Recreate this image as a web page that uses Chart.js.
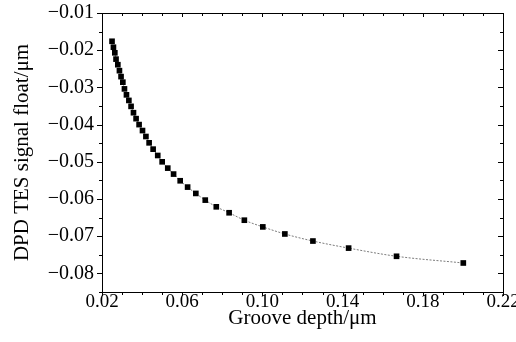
<!DOCTYPE html>
<html>
<head>
<meta charset="utf-8">
<script src="https://cdn.jsdelivr.net/npm/chart.js@4/dist/chart.umd.min.js"></script>
<style>
  html, body { margin: 0; padding: 0; background: #fff; }
  #wrap { width: 516px; height: 342px; }
</style>
</head>
<body>
<div id="wrap"><canvas id="myChart" width="516" height="342"></canvas></div>
<script>
// ── données ──
const grooveDepth = [
  0.0250, 0.0257, 0.0264, 0.0270, 0.0279, 0.0287, 0.0295, 0.0304, 0.0312,
  0.0322, 0.0334, 0.0345, 0.0357, 0.0370, 0.0385, 0.0402, 0.0419, 0.0435,
  0.0455, 0.0478, 0.0500, 0.0528, 0.0557, 0.0590, 0.0627, 0.0668, 0.0715,
  0.0770, 0.0834, 0.0910, 0.1002, 0.1112, 0.1252, 0.1430, 0.1669, 0.2002
];
const signalFloat = [
  -0.0176, -0.0192, -0.0207, -0.0224, -0.0239, -0.0255, -0.0271, -0.0286, -0.0304,
  -0.0320, -0.0335, -0.0351, -0.0368, -0.0384, -0.0400, -0.0416, -0.0432, -0.0449,
  -0.0466, -0.0483, -0.0500, -0.0517, -0.0533, -0.0551, -0.0568, -0.0585, -0.0603,
  -0.0621, -0.0637, -0.0657, -0.0675, -0.0694, -0.0713, -0.0732, -0.0754, -0.0772
];
const xTicks = [0.02, 0.06, 0.10, 0.14, 0.18, 0.22];
const yTicks = [-0.01, -0.02, -0.03, -0.04, -0.05, -0.06, -0.07, -0.08];
const xMinorStep = 0.01;
const yMinorStep = 0.005;

const FONT = "'Liberation Serif', 'Times New Roman', serif";

// ── cadre + graduations (majeures / mineures) ──
const frameTicks = {
  id: 'frameTicks',
  afterDraw(chart) {
    const { ctx, chartArea: a, scales: { x, y } } = chart;
    ctx.save();
    ctx.strokeStyle = '#000';
    ctx.lineWidth = 1;
    ctx.strokeRect(a.left + 0.5, a.top + 0.5, a.right - a.left, a.bottom - a.top);

    ctx.beginPath();
    // axe x
    for (let v = x.min; v <= x.max + 1e-9; v += xMinorStep) {
      const px = Math.round(x.getPixelForValue(v)) + 0.5;
      const major = xTicks.some(t => Math.abs(t - v) < 1e-6);
      const len = major ? 4 : 3;
      ctx.moveTo(px, a.bottom); ctx.lineTo(px, a.bottom + len);   // bas : vers l'extérieur
      ctx.moveTo(px, a.top);    ctx.lineTo(px, a.top + len);      // haut : vers l'intérieur
    }
    // axe y
    for (let v = y.max; v >= y.min - 1e-9; v -= yMinorStep) {
      const py = Math.round(y.getPixelForValue(v)) + 0.5;
      const major = yTicks.some(t => Math.abs(t - v) < 1e-6);
      const len = major ? 5 : 3;
      ctx.moveTo(a.left, py);  ctx.lineTo(a.left - len, py);       // gauche : extérieur
      ctx.moveTo(a.right, py); ctx.lineTo(a.right - len, py);      // droite : intérieur
    }
    ctx.stroke();
    ctx.restore();
  }
};

const ctx = document.getElementById('myChart').getContext('2d');

new Chart(ctx, {
  type: 'line',
  data: {
    datasets: [{
      label: 'DPD TES signal float',
      data: grooveDepth.map((x, i) => ({ x, y: signalFloat[i] })),
      borderColor: 'rgba(110, 110, 110, 0.9)',
      borderWidth: 1,
      borderDash: [2, 1.5],
      cubicInterpolationMode: 'monotone',
      pointStyle: 'rect',
      pointRadius: 4,
      pointBorderWidth: 0,
      pointBackgroundColor: '#000',
      fill: false
    }]
  },
  options: {
    responsive: false,
    animation: false,
    layout: { padding: { left: 0, right: 13, top: 13, bottom: 0 } },
    plugins: {
      legend: { display: false },
      tooltip: { enabled: false }
    },
    scales: {
      x: {
        type: 'linear',
        min: 0.02,
        max: 0.22,
        afterBuildTicks: s => { s.ticks = xTicks.map(value => ({ value })); },
        afterFit: s => { s.height = 50; s.paddingLeft = 0; s.paddingRight = 0; },
        grid: { display: false, drawTicks: false },
        border: { display: false },
        ticks: {
          padding: -1,
          maxRotation: 0,
          autoSkip: false,
          color: '#000',
          font: { family: FONT, size: 19 },
          callback: v => v.toFixed(2)
        },
        title: {
          display: true,
          text: 'Groove depth/μm',
          color: '#000',
          font: { family: FONT, size: 21 },
          padding: { top: 0, bottom: 11 }
        }
      },
      y: {
        type: 'linear',
        min: -0.085,
        max: -0.01,
        afterBuildTicks: s => { s.ticks = yTicks.map(value => ({ value })); },
        afterFit: s => { s.width = 102; s.paddingTop = 0; s.paddingBottom = 0; },
        grid: { display: false, drawTicks: false },
        border: { display: false },
        ticks: {
          padding: 8,
          autoSkip: false,
          color: '#000',
          font: { family: FONT, size: 20 },
          callback: v => '\u2212' + Math.abs(v).toFixed(2)
        },
        title: {
          display: true,
          text: 'DPD TES signal float/μm',
          color: '#000',
          font: { family: FONT, size: 21 },
          padding: { top: 10, bottom: 0 }
        }
      }
    }
  },
  plugins: [frameTicks]
});
</script>
</body>
</html>
